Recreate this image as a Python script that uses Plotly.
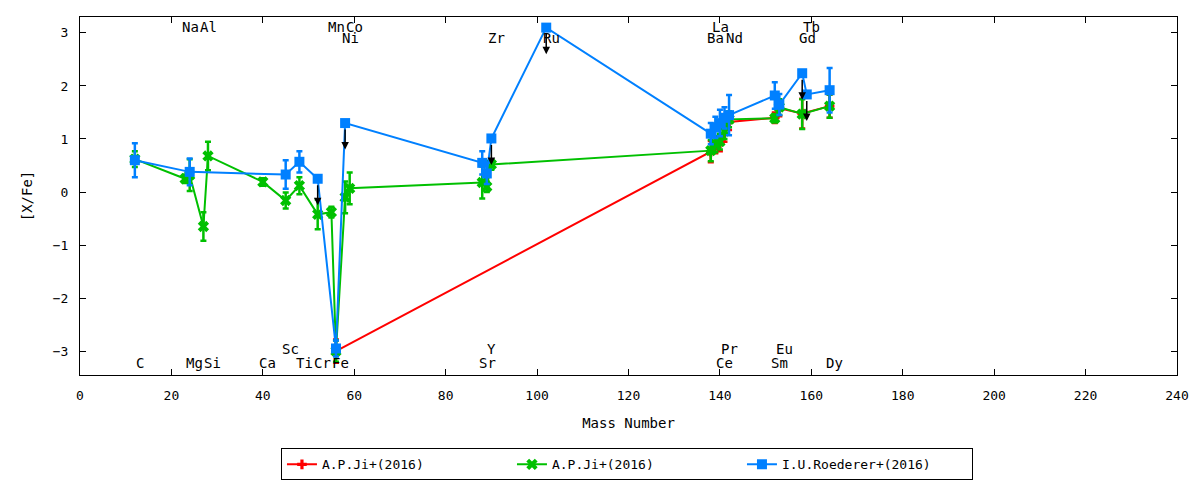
import plotly.graph_objects as go

# Abundance pattern [X/Fe] vs mass number
# --- A.P.Ji+(2016), first set (red) ---
ji1_mass = [56, 138, 139, 140, 141, 142, 152, 153, 158, 164]
ji1_val = [-3.00, 0.76, 0.88, 0.92, 1.10, 1.32, 1.40, 1.58, 1.48, 1.62]
ji1_err = [0.22, 0.20, 0.15, 0.15, 0.15, 0.15, 0.10, 0.15, 0.28, 0.22]

# --- A.P.Ji+(2016), second set (green) ---
ji2_mass = [12, 23, 24, 27, 28, 40, 45, 48, 52, 55, 56, 58, 59,
            88, 89, 90, 138, 139, 140, 141, 142, 152, 153, 158, 164]
ji2_val = [0.62, 0.25, 0.32, -0.65, 0.68, 0.19, -0.16, 0.12, -0.42, -0.38, -3.00, -0.10, 0.07,
           0.18, 0.10, 0.52, 0.78, 0.90, 0.95, 1.15, 1.37, 1.39, 1.60, 1.47, 1.62]
ji2_err = [0.15, 0.08, 0.30, 0.27, 0.27, 0.07, 0.15, 0.16, 0.28, 0.10, 0.20, 0.30, 0.30,
           0.30, 0.10, 0.10, 0.20, 0.15, 0.15, 0.15, 0.15, 0.08, 0.15, 0.28, 0.22]

# --- I.U.Roederer+(2016) (blue) ---
roe_mass = [12, 24, 45, 48, 52, 56, 58, 88, 89, 90, 102,
            138, 139, 140, 141, 142, 152, 153, 158, 159, 164]
roe_val = [0.60, 0.38, 0.33, 0.57, 0.25, -2.95, 1.30, 0.55, 0.35, 1.01, 3.10,
           1.10, 1.22, 1.30, 1.40, 1.45, 1.82, 1.65, 2.24, 1.84, 1.92]
roe_err = [0.32, 0.25, 0.27, 0.20, 0.0, 0.15, 0.0, 0.22, 0.20, 0.0, 0.0,
           0.20, 0.20, 0.25, 0.20, 0.38, 0.25, 0.20, 0.0, 0.0, 0.42]
roe_upper = [False, False, False, False, True, False, True, False, False, True, True,
             False, False, False, False, False, False, False, True, True, False]

# --- element labels ---
label_names = ["Na", "Al", "Mn", "Co", "La", "Tb",
               "Ni", "Zr", "Ru", "Ba", "Nd", "Gd",
               "Sc", "Y", "Pr", "Eu",
               "C", "Mg", "Si", "Ca", "Ti", "Cr", "Fe", "Sr", "Ce", "Sm", "Dy"]
label_mass = [23, 27, 55, 59, 139, 159,
              58, 90, 102, 138, 142, 158,
              45, 89, 141, 153,
              12, 24, 28, 40, 48, 52, 56, 88, 140, 152, 164]
label_row = ["top"] * 6 + ["top2"] * 6 + ["bot"] * 4 + ["bot2"] * 11

ROW_Y = {"top": 3.11, "top2": 2.90, "bot": -2.96, "bot2": -3.23}
ARROW_LEN = 0.5
FONT = "DejaVu Sans Mono"

fig = go.Figure()

series = [
    ("A.P.Ji+(2016)", ji1_mass, ji1_val, ji1_err, "#ff0000", "cross", 8),
    ("A.P.Ji+(2016)", ji2_mass, ji2_val, ji2_err, "#00c000", "x", 10),
    ("I.U.Roederer+(2016)", roe_mass, roe_val, roe_err, "#0080ff", "square", 10),
]
for name, m, v, e, col, sym, sz in series:
    fig.add_trace(go.Scatter(
        x=m, y=v, name=name, mode="lines+markers",
        line=dict(color=col, width=2),
        marker=dict(symbol=sym, size=sz, color=col),
        error_y=dict(type="data", array=e, visible=True, color=col, thickness=2.5, width=3),
    ))

annotations = []
# upper limit arrows
for m, v, up in zip(roe_mass, roe_val, roe_upper):
    if up:
        annotations.append(dict(
            x=m, y=v - ARROW_LEN, ax=m, ay=v, xref="x", yref="y", axref="x", ayref="y",
            showarrow=True, arrowhead=2, arrowsize=1, arrowwidth=1.5,
            arrowcolor="black", startstandoff=5, text=""))
# element names
for n, m, r in zip(label_names, label_mass, label_row):
    annotations.append(dict(
        x=m, y=ROW_Y[r], text=n, showarrow=False, xshift=5,
        font=dict(family=FONT, size=14, color="black")))

axis_style = dict(
    showline=True, linecolor="black", linewidth=1, mirror="allticks",
    ticks="inside", ticklen=6, tickcolor="black", showgrid=False, zeroline=False,
    ticklabelstandoff=8,
    tickfont=dict(family=FONT, size=13, color="black"),
)

fig.update_layout(
    width=1184, height=472,
    margin=dict(l=72, r=15, t=9, b=105, autoexpand=False),
    plot_bgcolor="white", paper_bgcolor="white",
    font=dict(family=FONT, size=13, color="black"),
    xaxis=dict(range=[0, 240], dtick=20,
               title=dict(text="Mass Number", standoff=16, font=dict(family=FONT, size=14)),
               **axis_style),
    yaxis=dict(range=[-3.45, 3.3], dtick=1,
               title=dict(text="[X/Fe]", standoff=16, font=dict(family=FONT, size=14)),
               **axis_style),
    legend=dict(orientation="h", x=0.4986, xanchor="center", y=-0.205, yanchor="top",
                bordercolor="black", borderwidth=1, entrywidth=185, entrywidthmode="pixels",
                font=dict(family=FONT, size=13)),
    annotations=annotations,
    showlegend=True,
)

fig.write_html("out.html")
